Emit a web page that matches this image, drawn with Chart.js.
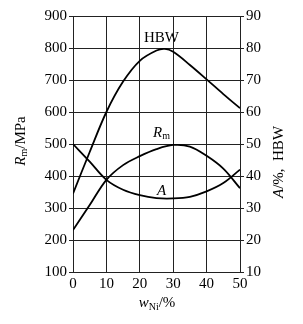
<!DOCTYPE html>
<html>
<head>
<meta charset="utf-8">
<script src="https://cdn.jsdelivr.net/npm/chart.js@4/dist/chart.umd.min.js"></script>
<style>
html,body{margin:0;padding:0;background:#fff;}
canvas{display:block;}
</style>
</head>
<body>
<canvas id="c" width="303" height="324"></canvas>
<script>
// Data
const xTicks = [0, 10, 20, 30, 40, 50];
const leftTicks = [100, 200, 300, 400, 500, 600, 700, 800, 900];
const rightTicks = [10, 20, 30, 40, 50, 60, 70, 80, 90];

// HBW (right axis)
const hbwNi = [0, 5, 10, 15, 20, 25, 27.5, 30, 35, 40, 45, 50];
const hbwVal = [34.5, 47.5, 60, 69.5, 76, 79.2, 79.7, 78.8, 74.7, 70.2, 65.6, 61.2];

// Rm, MPa (left axis)
const rmNi = [0, 5, 10, 15, 20, 25, 30, 35, 40, 45, 50];
const rmVal = [231, 309, 388, 434, 462, 484, 497, 492, 463, 423, 362];

// A, % (right axis)
const aNi = [0, 5, 10, 15, 20, 25, 30, 35, 40, 45, 50];
const aVal = [50, 44.5, 38.8, 35.7, 34, 33.1, 33, 33.5, 35.2, 37.8, 42];

const toPts = (xs, ys) => xs.map((x, i) => ({x: x, y: ys[i]}));

const FONT = "'Liberation Serif', 'DejaVu Serif', serif";

function drawRich(ctx, parts, x, y, align) {
  let total = 0;
  parts.forEach(p => {
    ctx.font = (p.italic ? 'italic ' : '') + p.size + 'px ' + FONT;
    p.w = ctx.measureText(p.t).width;
    total += p.w;
  });
  let cx = align === 'center' ? x - total / 2 : x;
  parts.forEach(p => {
    ctx.font = (p.italic ? 'italic ' : '') + p.size + 'px ' + FONT;
    ctx.fillText(p.t, cx, y + (p.dy || 0));
    cx += p.w;
  });
}

const labelPlugin = {
  id: 'labels',
  afterDraw(chart) {
    const ctx = chart.ctx;
    const xs = chart.scales.x, yl = chart.scales.yL, yr = chart.scales.yR;
    ctx.save();
    ctx.fillStyle = '#000';
    ctx.textBaseline = 'alphabetic';
    ctx.textAlign = 'left';
    // curve labels
    drawRich(ctx, [{t: 'HBW', size: 15}], xs.getPixelForValue(26.5), yr.getPixelForValue(81.8), 'center');
    drawRich(ctx, [{t: 'R', size: 15, italic: true}, {t: 'm', size: 10, dy: 2}], xs.getPixelForValue(26.5), yl.getPixelForValue(521), 'center');
    drawRich(ctx, [{t: 'A', size: 15, italic: true}], xs.getPixelForValue(26.5), yl.getPixelForValue(340), 'center');
    // x title
    drawRich(ctx, [{t: 'w', size: 15, italic: true}, {t: 'Ni', size: 10, dy: 3}, {t: '/%', size: 15}], 157, 307, 'center');
    // left title
    ctx.save();
    ctx.translate(25, 141);
    ctx.rotate(-Math.PI / 2);
    drawRich(ctx, [{t: 'R', size: 15, italic: true}, {t: 'm', size: 10, dy: 2}, {t: '/MPa', size: 15}], 0, 0, 'center');
    ctx.restore();
    // right title
    ctx.save();
    ctx.translate(283, 162);
    ctx.rotate(-Math.PI / 2);
    drawRich(ctx, [{t: 'A', size: 15, italic: true}, {t: '/%,  HBW', size: 15}], 0, 0, 'center');
    ctx.restore();
    ctx.restore();
  }
};

const lineStyle = {borderColor: '#000', borderWidth: 1.8, pointRadius: 0, fill: false, tension: 0.35};

new Chart(document.getElementById('c'), {
  type: 'line',
  data: {
    datasets: [
      Object.assign({label: 'HBW', data: toPts(hbwNi, hbwVal), yAxisID: 'yR'}, lineStyle),
      Object.assign({label: 'Rm', data: toPts(rmNi, rmVal), yAxisID: 'yL'}, lineStyle),
      Object.assign({label: 'A', data: toPts(aNi, aVal), yAxisID: 'yR'}, lineStyle)
    ]
  },
  options: {
    responsive: false,
    animation: false,
    devicePixelRatio: 1,
    layout: {padding: {top: 16, left: 0, right: 0, bottom: 0}},
    plugins: {legend: {display: false}, tooltip: {enabled: false}},
    scales: {
      x: {
        type: 'linear', min: 0, max: 50,
        afterBuildTicks: s => { s.ticks = xTicks.map(v => ({value: v})); },
        afterFit: s => { s.height = 52; },
        grid: {color: '#222', lineWidth: 1, drawTicks: false},
        border: {color: '#222', width: 1},
        ticks: {color: '#000', font: {family: FONT, size: 15}, padding: 3, maxRotation: 0}
      },
      yL: {
        type: 'linear', position: 'left', min: 100, max: 900,
        afterBuildTicks: s => { s.ticks = leftTicks.map(v => ({value: v})); },
        afterFit: s => { s.width = 73; },
        grid: {color: '#222', lineWidth: 1, drawTicks: true, tickLength: 4},
        border: {color: '#222', width: 1},
        ticks: {color: '#000', font: {family: FONT, size: 15}, padding: 2}
      },
      yR: {
        type: 'linear', position: 'right', min: 10, max: 90,
        afterBuildTicks: s => { s.ticks = rightTicks.map(v => ({value: v})); },
        afterFit: s => { s.width = 63; },
        grid: {color: '#222', lineWidth: 1, drawOnChartArea: false, drawTicks: true, tickLength: 4},
        border: {color: '#222', width: 1},
        ticks: {color: '#000', font: {family: FONT, size: 15}, padding: 2}
      }
    }
  },
  plugins: [labelPlugin]
});
</script>
</body>
</html>
